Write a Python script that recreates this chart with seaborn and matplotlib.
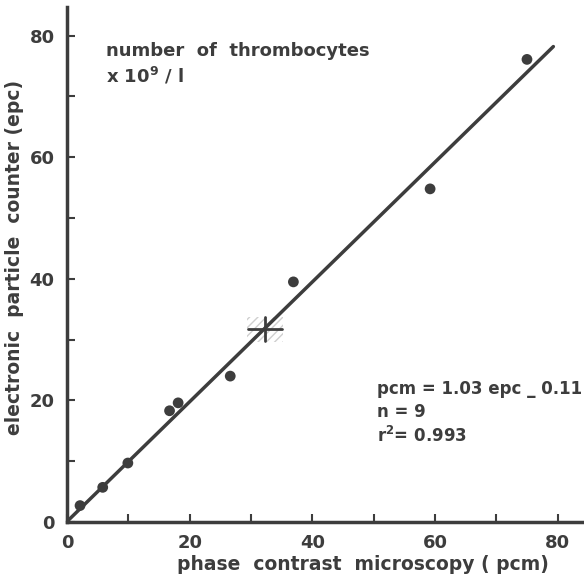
import numpy as np
import pandas as pd
import matplotlib
matplotlib.use("Agg")
import matplotlib.pyplot as plt
from matplotlib.patches import Rectangle
import seaborn as sns

# data
pcm = [2.1, 5.8, 9.9, 16.7, 18.1, 26.6, 36.9, 59.2, 75.0]
epc = [2.7, 5.7, 9.7, 18.3, 19.6, 24.0, 39.5, 54.8, 76.1]
line_x = [0.0, 79.3]
slope = 0.985
intercept = 0.1
mean_xy = (32.3, 31.7)
ticks = [0, 20, 40, 60, 80]
minor_ticks = [10, 30, 50, 70]

INK = "#3d3d3d"
sns.set_style("ticks")
plt.rcParams["font.family"] = ["DejaVu Sans"]

df = pd.DataFrame({"pcm": pcm, "epc": epc})
line_df = pd.DataFrame({"x": line_x, "y": [intercept + slope * v for v in line_x]})

fig = plt.figure(figsize=(5.84, 5.74), dpi=100)
ax = fig.add_axes([0.115, 0.0906, 0.885, 0.897])

sns.lineplot(data=line_df, x="x", y="y", ax=ax, color=INK, lw=2.5)
sns.scatterplot(data=df, x="pcm", y="epc", ax=ax, color=INK, s=60,
                edgecolor="none", zorder=5)

# mean cross with hatched background
mx, my = mean_xy
ax.add_patch(Rectangle((mx - 2.9, my - 2.1), 5.8, 4.2, facecolor="none",
                       edgecolor="#cfcfcf", hatch="////", lw=0, zorder=1))
ax.plot([mx - 2.8, mx + 2.8], [my, my], color=INK, lw=2, zorder=4)
ax.plot([mx, mx], [my - 2.0, my + 2.0], color=INK, lw=2, zorder=4)

ax.set_xlim(0, 84.3)
ax.set_ylim(0, 84.7)
ax.set_xticks(ticks)
ax.set_yticks(ticks)
ax.set_xticks(minor_ticks, minor=True)
ax.set_yticks(minor_ticks, minor=True)
ax.tick_params(which="both", direction="in", length=6, width=1.5, color=INK,
               labelcolor=INK, labelsize=13, pad=9)
for lab in ax.get_xticklabels() + ax.get_yticklabels():
    lab.set_fontweight("bold")
for s in ["top", "right"]:
    ax.spines[s].set_visible(False)
for s in ["left", "bottom"]:
    ax.spines[s].set_linewidth(2.5)
    ax.spines[s].set_color(INK)

ax.set_xlabel("phase  contrast  microscopy ( pcm)", fontsize=13.5,
              fontweight="bold", color=INK, labelpad=2, x=0.573)
ax.set_ylabel("electronic  particle  counter (epc)", fontsize=13.5,
              fontweight="bold", color=INK, labelpad=4, y=0.514)

tk = dict(fontsize=12, fontweight="bold", color=INK, transform=ax.transAxes)
ax.text(0.075, 0.915, "number  of  thrombocytes", va="center",
        **{**tk, "fontsize": 13})
ax.text(0.075, 0.866, r"x 10$^{\mathbf{9}}$ / l", va="center",
        **{**tk, "fontsize": 13})
ax.text(0.60, 0.258, "pcm = 1.03 epc _ 0.11", va="center", **tk)
ax.text(0.60, 0.214, "n = 9", va="center", **tk)
ax.text(0.60, 0.168, r"r$^{\mathbf{2}}$= 0.993", va="center", **tk)

fig.savefig("out.png", dpi=100)
